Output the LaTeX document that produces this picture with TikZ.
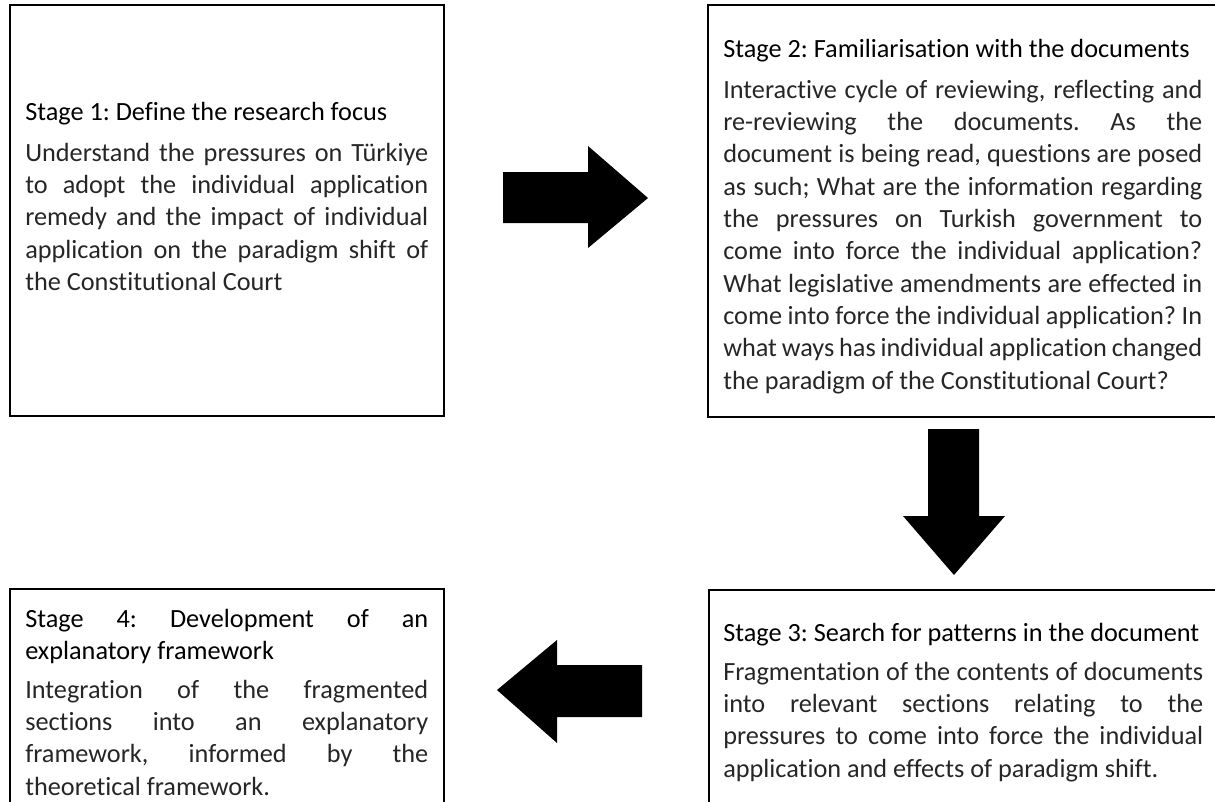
\documentclass[tikz,border=0pt]{standalone}
\usepackage{fontspec}
\setmainfont{Carlito}[RawFeature=-liga]
\newfontfamily\stgheadfam{Carlito}[RawFeature=-liga]
\newfontfamily\stgbodyfam{Carlito}[RawFeature=-liga]
\newcommand\stghead{\stgheadfam\fontsize{19.7pt}{24.26pt}\selectfont}
\newcommand\stgbody{\stgbodyfam\fontsize{19.7pt}{24.26pt}\selectfont}
\newcommand\stgjl[1]{\hbox to\hsize{#1}}
\newcommand\stgll[1]{\hbox to\hsize{#1\hfil}}
\newcommand\stgblk[2]{\vtop{\hsize=#1\relax\lineskiplimit=-50pt #2}}
\frenchspacing
\tikzset{
  stagebox/.style={draw=black, line width=1.3pt},
  headtxt/.style={anchor=base west, inner sep=0pt, font=\stghead, text=black},
  bodytxt/.style={anchor=base west, inner sep=0pt, font=\stgbody, text=black!85},
  blockarrow/.style={fill=black, draw=none}
}
\begin{document}
\frenchspacing
\begin{tikzpicture}[x=0.75pt, y=-0.75pt]
\useasboundingbox (0,0) rectangle (1215,801);
\clip (0,0) rectangle (1215,801);
% boxes
\draw[stagebox] (10,5) rectangle (444,416);
\draw[stagebox] (708,5) rectangle (1218,417);
\draw[stagebox] (709,590) rectangle (1218,812);
\draw[stagebox] (10,589) rectangle (444,812);

% Stage 1
\node[headtxt] (h1) at (25,120) {\stgblk{302.25pt}{\stgll{Stage 1: Define the research focus}}};
\node[bodytxt] (b1) at (25,161) {\stgblk{302.25pt}{%
\stgjl{Understand the pressures on Türkiye}
\stgjl{to adopt the individual application}
\stgjl{remedy and the impact of individual}
\stgjl{application on the paradigm shift of}
\stgll{the Constitutional Court}}};

% Stage 2
\node[headtxt] (h2) at (723,57) {\stgblk{359.25pt}{\stgll{Stage 2: Familiarisation with the documents}}};
\node[bodytxt] (b2) at (723,98) {\stgblk{359.25pt}{%
\stgjl{Interactive cycle of reviewing, reflecting and}
\stgjl{re-reviewing the documents. As the}
\stgjl{document is being read, questions are posed}
\stgjl{as such; What are the information regarding}
\stgjl{the pressures on Turkish government to}
\stgjl{come into force the individual application?}
\stgjl{What legislative amendments are effected in}
\stgjl{come into force the individual application? In}
\stgjl{what ways has individual application changed}
\stgll{the paradigm of the Constitutional Court?}}};

% Stage 3
\node[headtxt] (h3) at (723,641) {\stgblk{360pt}{\stgll{Stage 3: Search for patterns in the document}}};
\node[bodytxt] (b3) at (723,680) {\stgblk{360pt}{%
\stgjl{Fragmentation of the contents of documents}
\stgjl{into relevant sections relating to the}
\stgjl{pressures to come into force the individual}
\stgll{application and effects of paradigm shift.}}};

% Stage 4
\node[headtxt] (h4) at (25,627) {\stgblk{302.25pt}{%
\stgjl{Stage 4: Development of an}
\stgll{explanatory framework}}};
\node[bodytxt] (b4) at (25,698) {\stgblk{302.25pt}{%
\stgjl{Integration of the fragmented}
\stgjl{sections into an explanatory}
\stgjl{framework, informed by the}
\stgll{theoretical framework.}}};

% block arrows
\fill[blockarrow] (503,172) -- (588,172) -- (588,146) -- (648,198) -- (588,248) -- (588,223) -- (503,223) -- cycle;
\fill[blockarrow] (928,429) -- (979,429) -- (979,516) -- (1005,516) -- (954,575) -- (903,516) -- (928,516) -- cycle;
\fill[blockarrow] (642,665) -- (557,665) -- (557,640) -- (497,690) -- (557,743) -- (557,717) -- (642,717) -- cycle;
\end{tikzpicture}
\end{document}
